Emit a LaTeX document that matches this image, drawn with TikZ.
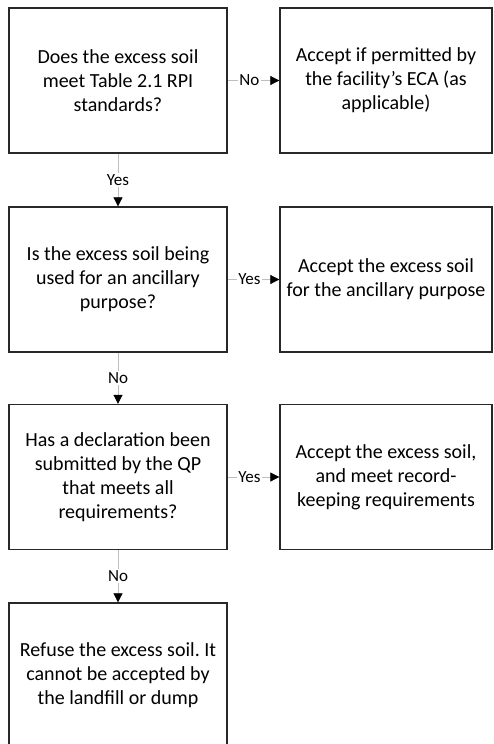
\documentclass[tikz,border=0pt]{standalone}
\usepackage{fontspec}
\setmainfont{Carlito}
\usepackage{xcolor}
\definecolor{lineGray}{RGB}{190, 190, 190}
\definecolor{boxEdge}{RGB}{40, 40, 40}
\usetikzlibrary{arrows.meta, positioning}
\frenchspacing

\begin{document}
\begin{tikzpicture}[
    x=1pt, y=1pt,
    every node/.style={font=\fontsize{20}{24}\selectfont},
    box/.style={
        rectangle, draw=boxEdge, line width=1.3pt, fill=white,
        minimum height=145pt, align=center, inner sep=0pt
    },
    qbox/.style={box, minimum width=218pt},
    abox/.style={box, minimum width=212pt},
    arr/.style={-{Triangle[length=9pt, width=9pt, color=black]}, lineGray, line width=0.7pt},
    lbl/.style={fill=white, inner sep=1.5pt, text=black, font=\fontsize{17}{19}\selectfont}
]
\useasboundingbox (0,0) rectangle (493,-744);
\clip (0,0) rectangle (493,-744);
\fill[white] (0,0) rectangle (493,-744);

%% ---- Question nodes ----
\node[qbox] (q1) at (118,-80.5)  {Does the excess soil\\meet Table 2.1 RPI\\standards?};
\node[qbox] (q2) at (118,-279.5) {Is the excess soil being\\used for an ancillary\\purpose?};
\node[qbox] (q3) at (118,-477)   {Has a declaration been\\submitted by the QP\\that meets all\\requirements?};
\node[qbox] (refuse) at (118,-675.5) {Refuse the excess soil. It\\cannot be accepted by\\the landfill or dump};

%% ---- Outcome nodes ----
\node[abox] (a1) at (386,-80.5)  {Accept if permitted by\\the facility's ECA (as\\applicable)};
\node[abox] (a2) at (386,-279.5) {Accept the excess soil\\for the ancillary purpose};
\node[abox] (a3) at (386,-477)   {Accept the excess soil,\\and meet record-\\keeping requirements};

%% ---- Arrows ----
\draw[arr] (q1) -- node[lbl, pos=0.42] {No}  (a1);
\draw[arr] (q2) -- node[lbl, pos=0.42] {Yes} (a2);
\draw[arr] (q3) -- node[lbl, pos=0.42] {Yes} (a3);
\draw[arr] (q1) -- node[lbl] {Yes} (q2);
\draw[arr] (q2) -- node[lbl] {No}  (q3);
\draw[arr] (q3) -- node[lbl] {No}  (refuse);

\end{tikzpicture}
\end{document}
